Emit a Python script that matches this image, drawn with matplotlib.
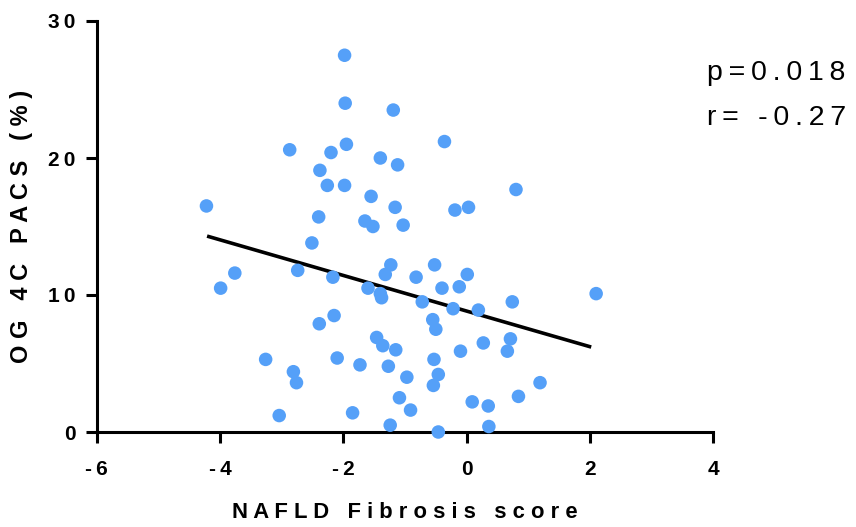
import matplotlib
matplotlib.use("Agg")
import matplotlib.pyplot as plt

# Data
nafld_score = [-1.98, -1.97, -2.87, -2.20, -1.95, -1.40, -2.38, -2.26, -1.98, -1.55,
               -4.22, -2.40, -1.65, -1.52, -1.19, -0.36, -1.12, 0.80, -1.16, -0.19,
               0.03, -1.03, -2.51, -3.76, -3.99, -2.74, -2.17, -1.60, -2.15, -2.39,
               -1.46, -3.26, -2.10, -1.73, -2.81, -2.76, -3.04, -1.85, -1.23, -1.32,
               -1.40, -1.38, -0.82, -0.52, -0.40, 0.01, -0.12, -0.72, -0.22, 0.19,
               0.74, 2.10, -0.55, -0.50, -1.36, -1.15, -0.10, 0.27, 0.71, 0.66,
               -0.53, -1.27, -0.97, -0.46, -0.54, 1.19, -1.09, -0.91, 0.09, 0.35,
               0.84, -1.24, -0.46, 0.36]
og_pacs = [27.5, 24.0, 20.6, 20.4, 21.0, 20.0, 19.1, 18.0, 18.0, 17.2,
           16.5, 15.7, 15.4, 15.0, 23.5, 21.2, 19.5, 17.7, 16.4, 16.2,
           16.4, 15.1, 13.8, 11.6, 10.5, 11.8, 11.3, 10.5, 8.5, 7.9,
           6.9, 5.3, 5.4, 4.9, 4.4, 3.6, 1.2, 1.4, 12.2, 11.5,
           10.1, 9.8, 11.3, 12.2, 10.5, 11.5, 10.6, 9.5, 9.0, 8.9,
           9.5, 10.1, 8.2, 7.5, 6.3, 6.0, 5.9, 6.5, 6.8, 5.9,
           5.3, 4.8, 4.0, 4.2, 3.4, 3.6, 2.5, 1.6, 2.2, 1.9,
           2.6, 0.5, 0.0, 0.4]
fit_x = [-4.21, 2.02]
fit_y = [14.3, 6.2]
x_ticks = [-6, -4, -2, 0, 2, 4]
y_ticks = [0, 10, 20, 30]
x_label = "NAFLD Fibrosis score"
y_label = "OG 4C PACS (%)"
stats_lines = ["p=0.018", "r= -0.27"]


def spaced(s, sep="\u2009"):
    return sep.join(list(s))


plt.rcParams['font.family'] = ['Liberation Sans', 'DejaVu Sans']

fig = plt.figure(figsize=(8.56, 5.27), dpi=100)
ax = fig.add_axes([96.7 / 856, 95 / 527, (713.3 - 96.7) / 856, (432 - 21) / 527])

ax.scatter(nafld_score, og_pacs, s=95, color='#55A0F8', edgecolors='none', zorder=3,
           clip_on=False)
ax.plot(fit_x, fit_y, color='black', lw=2.6, zorder=2, solid_capstyle='butt')

ax.set_xlim(-6, 4)
ax.set_ylim(0, 30)
ax.set_xticks(x_ticks)
ax.set_yticks(y_ticks)
ax.set_xticklabels([spaced(str(v)) for v in x_ticks], fontsize=15, fontweight='bold')
ax.set_yticklabels([spaced(str(v)) for v in y_ticks], fontsize=15, fontweight='bold')

for side in ['top', 'right']:
    ax.spines[side].set_visible(False)
for side in ['left', 'bottom']:
    ax.spines[side].set_linewidth(2.2)
ax.tick_params(axis='both', direction='out', length=8, width=2.2)
ax.tick_params(axis='x', pad=12)
ax.tick_params(axis='y', pad=7)

ax.set_xlabel(spaced(x_label, " "), fontsize=15.8, fontweight='bold', labelpad=17)
ax.set_ylabel(spaced(y_label, " "), fontsize=17, fontweight='bold', labelpad=11)

ax.text(0.99, 0.873, spaced(stats_lines[0]), transform=ax.transAxes, fontsize=20.5,
        ha='left', va='center')
ax.text(0.99, 0.764, spaced(stats_lines[1]), transform=ax.transAxes, fontsize=20.5,
        ha='left', va='center')

fig.savefig("out.png", dpi=100)
